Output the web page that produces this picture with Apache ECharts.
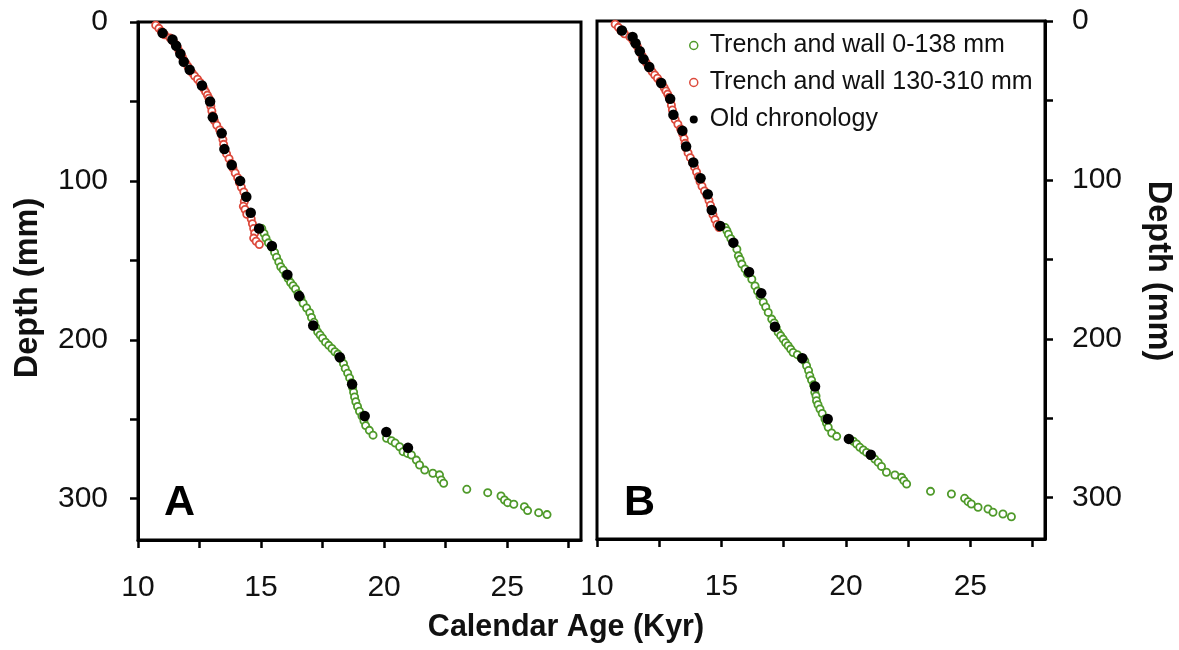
<!DOCTYPE html>
<html>
<head>
<meta charset="utf-8">
<script src="https://cdn.jsdelivr.net/npm/echarts@6/dist/echarts.min.js"></script>
<style>
html,body{margin:0;padding:0;background:#fff;}
#chart{width:1179px;height:650px;}
</style>
</head>
<body>
<div id="chart"></div>
<script>
// ---- tick values ----
var xTicks = [10, 12.5, 15, 17.5, 20, 22.5, 25, 27.5];
var xLabels = [10, 15, 20, 25];
var yTicks = [0, 50, 100, 150, 200, 250, 300];
var yLabels = [0, 100, 200, 300];

// ---- Panel A : [age (kyr), depth (mm)] ----
var redA = [
  [10.72,2],[10.85,4],[10.95,6],[11.08,8],[11.3,10],[11.42,12],[11.52,14],[11.6,16],[11.66,18],[11.74,20],
  [11.8,22],[11.86,24],[11.95,26],[12.03,28],[12.1,30],[12.2,32],[12.3,34],[12.42,36],[12.52,38],[12.6,40],
  [12.68,42],[12.75,44],[12.82,46],[12.88,48],[12.92,50],[12.96,53],[13.0,56],[13.04,59],[13.1,62],[13.2,65],
  [13.32,68],[13.4,71],[13.45,74],[13.48,77],[13.52,80],[13.6,83],[13.7,86],[13.78,89],[13.86,92],[13.95,95],
  [14.05,98],[14.12,101],[14.2,104],[14.3,107],[14.36,110],[14.32,113],[14.28,116],[14.35,118],[14.42,121],
  [14.6,124],[14.65,127],[14.7,130],[14.74,133],[14.7,136],[14.8,138],[14.93,140]
];
var greenA = [
  [15.03,130],[15.12,133],[15.2,136],[15.3,139],[15.45,142],[15.55,145],[15.63,148],[15.72,151],[15.8,154],
  [15.9,156],[16.0,159],[16.1,161.5],[16.2,164],[16.3,166],[16.4,168],[16.5,171],[16.62,174],[16.71,177],
  [16.85,180],[16.98,183],[17.05,186],[17.15,189],[17.22,192],[17.3,195],[17.4,197],[17.5,199],[17.62,201.5],
  [17.75,203.5],[17.88,205.5],[18.0,207.5],[18.12,209],[18.25,212],[18.35,215],[18.42,218],[18.52,221],
  [18.6,224],[18.68,227],[18.72,230],[18.76,233],[18.8,236],[18.85,239],[18.92,242],[19.0,245],[19.1,248],
  [19.18,251],[19.25,254],[19.4,257],[19.55,260],[20.1,262],[20.3,263.5],[20.45,265],[20.63,267.3],
  [20.77,270.4],[20.95,271.5],[21.11,272.5],[21.31,275.7],[21.44,278.8],[21.65,282],[21.98,284],[22.25,285],
  [22.32,288.2],[22.42,290.3],[23.36,294.1],[24.21,296.2],[24.75,298.3],[24.89,300.8],[25.02,302.5],
  [25.27,303.5],[25.7,305],[25.83,307.5],[26.28,308.8],[26.62,310]
];
var oldA = [
  [11.0,7],[11.4,11],[11.55,15],[11.72,20],[11.86,25],[12.1,30],[12.6,40],[12.93,50],[13.04,60],[13.4,70],
  [13.51,80],[13.81,90],[14.15,100],[14.4,110],[14.58,120],[14.92,130],[15.44,141],[16.07,159],[16.55,172.5],
  [17.12,191],[18.2,211],[18.7,228],[19.21,248],[20.09,258],[20.97,268]
];

// ---- Panel B : [age (kyr), depth (mm)] ----
var redB = [
  [10.73,2],[10.86,4],[10.96,6],[11.1,8],[11.32,10],[11.44,12],[11.53,14],[11.62,16],[11.68,18],[11.75,20],
  [11.82,22],[11.88,24],[11.97,26],[12.05,28],[12.13,30],[12.22,32],[12.32,34],[12.43,36],[12.53,38],[12.62,40],
  [12.7,42],[12.77,44],[12.84,46],[12.9,48],[12.95,50],[12.99,53],[13.03,56],[13.07,59],[13.14,62],[13.25,65],
  [13.36,68],[13.44,71],[13.5,74],[13.54,77],[13.58,80],[13.66,83],[13.75,86],[13.84,89],[13.92,92],[14.0,95],
  [14.07,98],[14.14,101],[14.22,104],[14.32,107],[14.42,110],[14.5,113],[14.56,116],[14.6,119],[14.66,122],
  [14.74,125],[14.82,128],[14.9,130]
];
var greenB = [
  [15.15,130],[15.22,132],[15.28,134.2],[15.38,137],[15.48,140],[15.62,143.6],[15.68,147.8],[15.75,150],
  [15.82,153],[15.95,156],[16.05,159],[16.22,162.5],[16.35,166.7],[16.45,170],[16.55,173],[16.68,177],
  [16.78,180],[16.88,183.4],[17.02,187.6],[17.12,190],[17.2,193],[17.28,196],[17.38,198],[17.48,200.2],
  [17.58,202.5],[17.68,204.4],[17.78,206.5],[17.88,208.6],[18.05,210],[18.2,212],[18.35,214],[18.42,217],
  [18.5,220],[18.55,223.3],[18.62,226],[18.7,229],[18.75,233.7],[18.8,236],[18.82,239],[18.88,241.5],
  [18.96,244.2],[19.05,247],[19.16,250.5],[19.22,253],[19.29,255.7],[19.43,259.3],[19.63,261.4],[20.3,264.5],
  [20.43,266.2],[20.56,268.3],[20.7,270],[20.83,271.5],[21.0,273.5],[21.16,275.7],[21.3,277.8],[21.43,280.3],
  [21.63,284],[21.97,285.7],[22.24,287.2],[22.33,289.3],[22.44,291.4],[23.4,296],[24.24,297.7],[24.77,300.4],
  [24.91,302.5],[25.04,304],[25.31,306],[25.71,307.1],[25.91,309.2],[26.31,310.3],[26.65,312]
];
var oldB = [
  [11.0,6],[11.43,10],[11.55,14],[11.72,19],[11.87,24],[12.1,29],[12.58,39],[12.94,49],[13.07,59],[13.43,69],
  [13.58,79],[13.87,89],[14.16,99],[14.45,109],[14.61,119],[14.95,129],[15.48,139.5],[16.11,158],[16.6,171.3],
  [17.15,192.4],[18.25,212.3],[18.76,230],[19.27,250.5],[20.12,263],[21.0,273]
];

var seriesNames = ['Trench and wall 0-138 mm', 'Trench and wall 130-310 mm', 'Old chronology'];
var GREEN = '#4f9a2a', RED = '#dc4a3c', BLACK = '#000000';
var FONT = '"Liberation Sans", Arial, Helvetica, sans-serif';

function xAxisCfg(gi) {
  return {
    gridIndex: gi, type: 'value', min: 10, max: 28, position: 'bottom',
    axisLine: { show: true, onZero: false, lineStyle: { color: '#000', width: 3 } },
    axisTick: { show: true, inside: false, length: 8, customValues: xTicks, lineStyle: { color: '#000', width: 2.5 } },
    axisLabel: { show: true, customValues: xLabels, margin: 33, fontSize: 30, color: '#111', fontFamily: FONT },
    splitLine: { show: false }
  };
}
function yAxisCfg(gi, pos, margin) {
  return {
    gridIndex: gi, type: 'value', min: 0, max: 326, inverse: true, position: pos,
    axisLine: { show: true, onZero: false, lineStyle: { color: '#000', width: 3 } },
    axisTick: { show: true, inside: false, length: 8, customValues: yTicks, lineStyle: { color: '#000', width: 2.5 } },
    axisLabel: { show: true, customValues: yLabels, margin: margin, fontSize: 30, color: '#111', fontFamily: FONT },
    splitLine: { show: false }
  };
}
function hollow(name, data, color, gi) {
  return {
    name: name, type: 'scatter', xAxisIndex: gi, yAxisIndex: gi, data: data,
    symbol: 'circle', symbolSize: 7.2, silent: true,
    itemStyle: { color: '#fff', borderColor: color, borderWidth: 1.8, opacity: 1 }
  };
}
function filled(name, data, gi) {
  return {
    name: name, type: 'scatter', xAxisIndex: gi, yAxisIndex: gi, data: data,
    symbol: 'circle', symbolSize: 10.5, silent: true, z: 5,
    itemStyle: { color: BLACK, opacity: 1 }
  };
}

var chart = echarts.init(document.getElementById('chart'), null, { renderer: 'canvas' });
chart.setOption({
  backgroundColor: '#fff',
  animation: false,
  textStyle: { fontFamily: FONT },
  grid: [
    { left: 138, top: 22, width: 443, height: 518, show: true, borderColor: '#000', borderWidth: 3, backgroundColor: 'transparent' },
    { left: 597, top: 21, width: 448, height: 518, show: true, borderColor: '#000', borderWidth: 3, backgroundColor: 'transparent' }
  ],
  xAxis: [xAxisCfg(0), xAxisCfg(1)],
  yAxis: [yAxisCfg(0, 'left', 30), yAxisCfg(1, 'right', 27)],
  legend: {
    orient: 'vertical', left: 689, top: 33, padding: 0, itemWidth: 8, itemHeight: 8, itemGap: 12,
    selectedMode: false,
    textStyle: { fontSize: 25, color: '#111', fontFamily: FONT, padding: [0, 0, 0, 7] },
    data: [
      { name: seriesNames[0], icon: 'circle', itemStyle: { color: '#fff', borderColor: GREEN, borderWidth: 1.5, opacity: 1 } },
      { name: seriesNames[1], icon: 'circle', itemStyle: { color: '#fff', borderColor: RED, borderWidth: 1.5, opacity: 1 } },
      { name: seriesNames[2], icon: 'circle', itemStyle: { color: BLACK, opacity: 1 } }
    ]
  },
  graphic: [
    { type: 'text', left: 164, top: 482, style: { text: 'A', font: 'bold 43px ' + FONT, fill: '#000' } },
    { type: 'text', left: 624, top: 482, style: { text: 'B', font: 'bold 43px ' + FONT, fill: '#000' } },
    { type: 'text', x: 566, y: 628, style: { text: 'Calendar Age (Kyr)', font: 'bold 30.5px ' + FONT, fill: '#111', align: 'center', verticalAlign: 'middle' } },
    { type: 'text', x: 28, y: 288, rotation: Math.PI / 2, style: { text: 'Depth (mm)', font: 'bold 32.5px ' + FONT, fill: '#111', align: 'center', verticalAlign: 'middle' } },
    { type: 'text', x: 1158, y: 271, rotation: -Math.PI / 2, style: { text: 'Depth (mm)', font: 'bold 32.5px ' + FONT, fill: '#111', align: 'center', verticalAlign: 'middle' } }
  ],
  series: [
    hollow(seriesNames[1], redA, RED, 0),
    hollow(seriesNames[0], greenA, GREEN, 0),
    filled(seriesNames[2], oldA, 0),
    hollow(seriesNames[1], redB, RED, 1),
    hollow(seriesNames[0], greenB, GREEN, 1),
    filled(seriesNames[2], oldB, 1)
  ]
});
</script>
</body>
</html>
